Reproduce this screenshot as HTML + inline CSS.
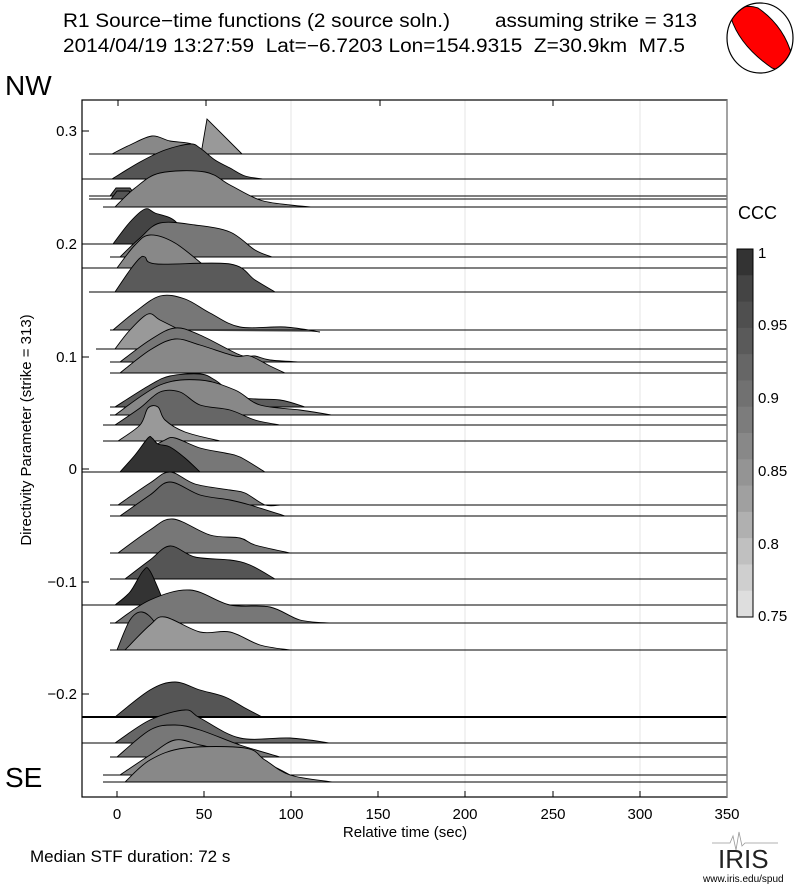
<!DOCTYPE html>
<html><head><meta charset="utf-8"><style>
body{margin:0;background:#fff;}
svg text{font-family:"Liberation Sans",sans-serif;}
</style></head><body>
<svg id="s" width="800" height="887" xmlns="http://www.w3.org/2000/svg">
<rect width="800" height="887" fill="#fff"/>
<text x="63" y="27" font-size="19" textLength="387" lengthAdjust="spacingAndGlyphs">R1 Source−time functions (2 source soln.)</text>
<text x="495" y="27" font-size="19" textLength="202" lengthAdjust="spacingAndGlyphs">assuming strike = 313</text>
<text x="63" y="52" font-size="19" textLength="622" lengthAdjust="spacingAndGlyphs" xml:space="preserve">2014/04/19 13:27:59  Lat=−6.7203 Lon=154.9315  Z=30.9km  M7.5</text>
<defs><clipPath id="bb"><ellipse cx="760" cy="38" rx="33" ry="35"/></clipPath></defs>
<ellipse cx="760" cy="38" rx="33" ry="35" fill="#fff"/>
<path clip-path="url(#bb)" d="M731,18 Q740,2 758,8 Q784,26 792,56 Q786,74 772,68 Q740,46 731,18 Z" fill="#f00" stroke="#000" stroke-width="1"/>
<ellipse cx="760" cy="38" rx="33" ry="35" fill="none" stroke="#000" stroke-width="1.2"/>
<text x="5" y="95" font-size="28">NW</text>
<text x="5" y="787" font-size="28">SE</text>
<g stroke="#e6e6e6" stroke-width="1">
<line x1="291" y1="100" x2="291" y2="797"/><line x1="465" y1="100" x2="465" y2="797"/><line x1="640" y1="100" x2="640" y2="797"/>
</g>
<g id="traces"></g>
<rect x="82" y="100" width="645" height="697" fill="none" stroke="#000" stroke-width="1.2"/>
<line x1="727" y1="100" x2="727" y2="797" stroke="#888" stroke-width="1.2"/>
<g stroke="#000" stroke-width="1">
<line x1="118" y1="100" x2="118" y2="106"/><line x1="206" y1="100" x2="206" y2="106"/><line x1="380" y1="100" x2="380" y2="106"/><line x1="553" y1="100" x2="553" y2="106"/>
<line x1="117" y1="797" x2="117" y2="791"/><line x1="204" y1="797" x2="204" y2="791"/><line x1="291" y1="797" x2="291" y2="791"/><line x1="378" y1="797" x2="378" y2="791"/><line x1="465" y1="797" x2="465" y2="791"/><line x1="553" y1="797" x2="553" y2="791"/><line x1="640" y1="797" x2="640" y2="791"/>
<line x1="82" y1="131" x2="89" y2="131"/><line x1="82" y1="244" x2="89" y2="244"/><line x1="82" y1="357" x2="89" y2="357"/><line x1="82" y1="469" x2="89" y2="469"/><line x1="82" y1="582" x2="89" y2="582"/><line x1="82" y1="694" x2="89" y2="694"/>
</g>
<g font-size="15" text-anchor="end">
<text x="77" y="136">0.3</text><text x="77" y="249">0.2</text><text x="77" y="362">0.1</text><text x="77" y="474">0</text><text x="77" y="587">−0.1</text><text x="77" y="699">−0.2</text>
</g>
<g font-size="15" text-anchor="middle">
<text x="117" y="819">0</text><text x="204" y="819">50</text><text x="291" y="819">100</text><text x="378" y="819">150</text><text x="465" y="819">200</text><text x="553" y="819">250</text><text x="640" y="819">300</text><text x="727" y="819">350</text>
<text x="405" y="837">Relative time (sec)</text>
</g>
<text transform="translate(31,430) rotate(-90)" font-size="15" text-anchor="middle">Directivity Parameter (strike = 313)</text>
<text x="30" y="862" font-size="17">Median STF duration: 72 s</text>
<text x="738" y="219" font-size="18">CCC</text>
<g id="cb"></g>
<rect x="737" y="249" width="16" height="368" fill="none" stroke="#000" stroke-width="1"/>
<g font-size="15">
<text x="758" y="258">1</text><text x="758" y="330">0.95</text><text x="758" y="403">0.9</text><text x="758" y="476">0.85</text><text x="758" y="549">0.8</text><text x="758" y="621">0.75</text>
</g>
<text x="718" y="868" font-size="26" font-family="Liberation Serif, serif" fill="#222">IRIS</text>
<path d="M712,843 L730,843 L733,836 L736,850 L739,832 L742,846 L745,843 L778,843" stroke="#999" fill="none" stroke-width="0.8"/>
<text x="703" y="882" font-size="10">www.iris.edu/spud</text>
</svg>
<script>
var T=[
[154,89,'#888',[[112,154],[130,145],[152,136],[170,141],[192,144],[205,154]]],
[154,200,'#999',[[201,154],[207,119],[242,154]],1],
[179,82,'#555',[[112,179],[140,162],[165,150],[190,144],[200,148],[215,160],[230,168],[245,176],[263,179]]],
[196,89,'#555',[[110,196],[116,188],[130,188],[136,196]],1],
[199,89,'#555',[[111,199],[117,191],[129,191],[135,199]],1],
[207,103,'#888',[[115,207],[135,188],[160,173],[205,172],[230,185],[260,200],[290,205],[312,207]]],
[244,82,'#444',[[113,244],[130,222],[145,209],[155,213],[175,221],[190,244]]],
[257,110,'#777',[[120,257],[140,238],[160,223],[195,225],[230,232],[255,250],[272,257]]],
[268,82,'#888',[[117,268],[135,245],[150,235],[175,243],[207,268]]],
[292,89,'#5a5a5a',[[115,292],[130,270],[140,258],[145,257],[157,264],[230,264],[255,280],[275,292]]],
[330,110,'#777',[[113,330],[135,312],[160,296],[185,299],[210,313],[240,327],[285,327],[320,332]]],
[349,96,'#999',[[115,349],[130,330],[148,314],[160,320],[180,330],[200,340],[220,349]]],
[362,110,'#777',[[120,362],[150,340],[175,328],[200,335],[240,355],[255,356],[270,360],[300,362]]],
[373,110,'#888',[[120,373],[150,350],[175,339],[200,345],[235,356],[250,356],[270,366],[285,373]]],
[407,110,'#5e5e5e',[[115,407],[150,385],[170,376],[200,374],[215,380],[240,397],[280,400],[305,407]]],
[415,110,'#888',[[115,415],[160,385],[200,380],[235,390],[260,405],[300,410],[332,415]]],
[425,103,'#666',[[115,425],[140,408],[160,392],[180,392],[200,405],[230,410],[255,420],[280,425]]],
[441,103,'#999',[[118,441],[140,425],[148,408],[158,407],[165,420],[185,432],[220,441]]],
[472,82,'#777',[[140,472],[150,450],[165,440],[175,438],[200,448],[225,453],[240,457],[265,472]]],
[472,82,'#333',[[120,472],[135,455],[148,438],[152,438],[158,444],[170,447],[185,458],[200,472]]],
[505,110,'#777',[[118,505],[150,483],[170,472],[195,484],[230,490],[245,493],[265,505],[280,505]]],
[516,110,'#666',[[120,516],[150,495],[170,482],[200,495],[230,500],[250,505],[285,516]]],
[553,110,'#777',[[118,553],[150,530],[173,519],[210,535],[240,538],[255,545],[290,553]]],
[579,110,'#555',[[125,579],[150,560],[170,546],[195,557],[230,560],[250,565],[275,579]]],
[605,82,'#333',[[115,605],[130,592],[143,571],[150,571],[165,605]]],
[623,110,'#777',[[115,623],[150,600],[190,590],[230,605],[270,607],[300,620],[330,623]]],
[650,110,'#666',[[117,650],[130,620],[142,612],[155,623],[165,650]]],
[650,110,'#999',[[125,650],[150,625],[165,617],[200,632],[230,632],[260,645],[290,650]]],
[717,82,'#555',[[115,717],[150,690],[175,682],[200,690],[225,697],[245,708],[262,717]]],
[743,82,'#666',[[115,743],[150,720],[185,710],[200,718],[240,738],[290,738],[330,743]]],
[757,110,'#777',[[117,757],[150,730],[175,725],[200,730],[240,745],[280,757]]],
[775,103,'#888',[[120,775],[150,755],[175,740],[200,745],[230,752],[270,765],[290,775]]],
[782,103,'#888',[[125,782],[150,760],[185,748],[245,748],[265,760],[290,775],[332,782]]]
];
function smooth(p,lin){if(lin)return 'M'+p.map(q=>q.join(',')).join(' L');
var d='M'+p[0][0]+','+p[0][1];for(var i=0;i<p.length-1;i++){var p0=p[i-1]||p[i],p1=p[i],p2=p[i+1],p3=p[i+2]||p2;
d+=' C'+(p1[0]+(p2[0]-p0[0])/6)+','+(p1[1]+(p2[1]-p0[1])/6)+' '+(p2[0]-(p3[0]-p1[0])/6)+','+(p2[1]-(p3[1]-p1[1])/6)+' '+p2[0]+','+p2[1];}return d;}
var h='';T.forEach(function(t){var y=t[0];var d=smooth(t[3],t[4]);
h+='<path d="'+d+' Z" fill="'+t[2]+'" stroke="none"/>';
h+='<path d="'+d+'" fill="none" stroke="#000" stroke-width="0.9"/>';
h+='<line x1="'+t[1]+'" y1="'+y+'" x2="727" y2="'+y+'" stroke="#000" stroke-width="'+(y==717?2:1)+'"/>';});
document.getElementById('traces').innerHTML=h;
var c='',cols=['#333','#444','#4f4f4f','#5a5a5a','#666','#717171','#7c7c7c','#888','#949494','#a0a0a0','#b0b0b0','#c0c0c0','#cfcfcf','#dedede'];
for(var i=0;i<14;i++){c+='<rect x="737" y="'+(249+i*368/14)+'" width="16" height="'+(368/14+0.5)+'" fill="'+cols[i]+'"/>';}
document.getElementById('cb').innerHTML=c;
</script>
</body></html>
